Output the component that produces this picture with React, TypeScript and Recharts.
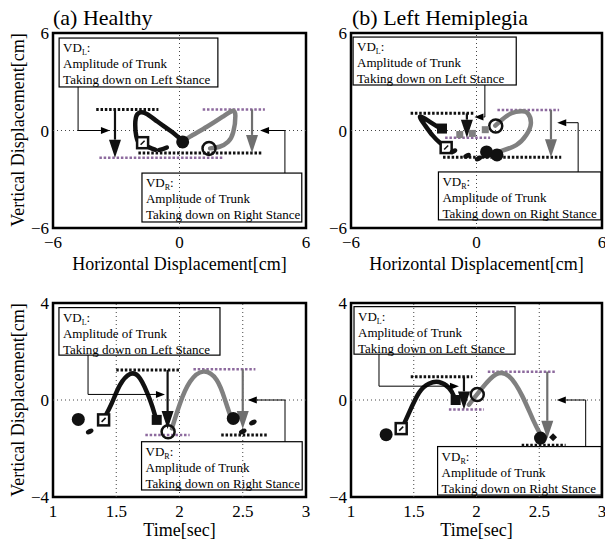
import React from "react";
import {
  ComposedChart,
  Line,
  Scatter,
  XAxis,
  YAxis,
  ReferenceLine,
  ReferenceArea,
} from "recharts";

const SERIF = "'Liberation Serif', 'Times New Roman', serif";
const INK = "#111";
const GREY = "#808080";
const PURPLE = "#8d6a9e";

// ---------- (a) Healthy, trunk path [cm]
const aBlackX = [0.15, -0.4, -1.05, -1.6, -2.0, -2.1, -2.05, -1.9, -1.75];
const aBlackY = [-0.65, -0.05, 0.55, 1.05, 1.0, 0.35, -0.35, -0.8, -0.75];
const aTailX = [-1.5, -1.0, -0.45];
const aTailY = [-1.0, -1.2, -0.95];
const aGrayX = [0.2, 0.5, 1.3, 2.05, 2.5, 2.65, 2.55, 2.3, 1.9, 1.45];
const aGrayY = [-0.65, -0.38, 0.23, 0.85, 1.2, 0.9, -0.1, -0.7, -1.0, -1.1];
const aMarkX = [0.15, 1.4, -1.75];
const aMarkY = [-0.7, -1.1, -0.75];
const aMarkKind = ["dot", "ring", "osq"];
const aLevelY = [1.3, 1.3, -1.38, -1.67];
const aLevelX1 = [-3.95, 1.1, -1.95, -3.8];
const aLevelX2 = [-1.0, 4.05, 3.95, 2.05];
const aLevelTone = ["k", "p", "k", "p"];
const aArrowX = [-3.06, 3.44];
const aArrowTop = [1.3, 1.3];
const aArrowEnd = [-1.67, -1.38];
const aArrowTone = ["k", "g"];

// ---------- (b) Left hemiplegia, trunk path [cm]
const bBlackX = [-1.75, -2.25, -2.7, -2.45, -2.1, -1.75, -1.5];
const bBlackY = [0.15, 0.55, 0.85, 0.3, -0.3, -0.75, -0.95];
const bGrayX = [1.1, 1.9, 2.38, 2.6, 2.45, 2.14, 1.67, 1.2, 0.9];
const bGrayY = [-1.3, -0.9, -0.28, 0.44, 1.06, 1.18, 1.06, 0.65, 0.3];
const bMarkX = [-1.65, -1.45, 0.92, 0.48, 0.98, -1.1, -0.45, 0.1, -0.8, -0.2, 0.42];
const bMarkY = [0.12, -1.05, 0.28, -1.32, -1.5, -1.28, -1.55, -1.72, -0.25, -0.18, 0.05];
const bMarkKind = ["sq", "osq", "ring", "dot", "dot", "bit", "bit", "bit", "gsq", "gsq", "gsq"];
const bLevelY = [1.06, 1.26, -0.44, -1.65];
const bLevelX1 = [-3.15, 1.0, -1.5, -1.6];
const bLevelX2 = [-0.15, 3.95, 0.65, 4.05];
const bLevelTone = ["k", "p", "p", "k"];
const bArrowX = [-0.46, 3.56];
const bArrowTop = [1.06, 1.26];
const bArrowEnd = [-0.44, -1.65];
const bArrowTone = ["k", "g"];

// ---------- (c) Healthy, vertical displacement over time
const cBlackX = [1.398, 1.464, 1.53, 1.609, 1.688, 1.767, 1.806];
const cBlackY = [-0.82, -0.14, 0.62, 1.07, 0.89, 0.0, -0.62];
const cGrayX = [1.94, 2.004, 2.083, 2.188, 2.294, 2.36, 2.4];
const cGrayY = [-1.17, -0.14, 0.75, 1.17, 0.82, 0.0, -0.62];
const cMarkX = [1.2, 1.4, 1.82, 1.91, 2.425, 1.29, 2.5, 2.58];
const cMarkY = [-0.8, -0.82, -0.82, -1.31, -0.76, -1.3, -1.3, -0.93];
const cMarkKind = ["dot", "osq", "sq", "ring", "dot", "bit", "bit", "bit"];
const cLevelY = [1.24, 1.27, -1.44, -1.44];
const cLevelX1 = [1.5, 2.11, 1.73, 2.33];
const cLevelX2 = [2.0, 2.6, 2.08, 2.7];
const cLevelTone = ["k", "p", "p", "k"];
const cArrowX = [1.906, 2.5];
const cArrowTop = [1.24, 1.27];
const cArrowEnd = [-1.2, -1.2];
const cArrowTone = ["k", "g"];

// ---------- (d) Left hemiplegia, vertical displacement over time
const dBlackX = [1.404, 1.462, 1.542, 1.62, 1.7, 1.78, 1.82];
const dBlackY = [-1.2, -0.53, 0.3, 0.67, 0.74, 0.5, 0.16];
const dGrayX = [1.94, 2.046, 2.153, 2.259, 2.365, 2.45, 2.51];
const dGrayY = [-0.19, 0.5, 1.05, 0.98, 0.16, -0.81, -1.43];
const dMarkX = [1.28, 1.4, 1.834, 2.006, 2.51, 2.61];
const dMarkY = [-1.43, -1.18, 0.0, 0.23, -1.57, -1.54];
const dMarkKind = ["dot", "osq", "sq", "ring", "dot", "dia"];
const dLevelY = [0.96, 1.17, -0.39, -1.87];
const dLevelX1 = [1.476, 2.09, 1.78, 2.36];
const dLevelX2 = [1.967, 2.63, 2.06, 2.71];
const dLevelTone = ["k", "p", "p", "k"];
const dArrowX = [1.9, 2.564];
const dArrowTop = [0.96, 1.17];
const dArrowEnd = [-0.39, -1.6];
const dArrowTone = ["k", "g"];

type Curve = { xs: number[]; ys: number[]; color: string; dash?: string };
type Note = {
  side: "L" | "R";
  x1: number;
  x2: number;
  y1: number;
  y2: number;
  stemX: number;
  stemFrom: number;
  stemTo: number;
  tipX: number;
};
type PanelProps = {
  frame: [number, number, number, number];
  xDomain: [number, number];
  yDomain: [number, number];
  xTicks: number[];
  yTicks: number[];
  gridX: number[];
  gridY: number[];
  curves: Curve[];
  markX: number[];
  markY: number[];
  markKind: string[];
  levelY: number[];
  levelX1: number[];
  levelX2: number[];
  levelTone: string[];
  arrowX: number[];
  arrowTop: number[];
  arrowEnd: number[];
  arrowTone: string[];
  notes: Note[];
};

const fmt = (v: number) => (v < 0 ? "\u2212" + Math.abs(v) : String(v));

const arrowShape =
  (color: string, width: number, len: number, half: number) => (p: any) => {
    const { x1, y1, x2, y2 } = p;
    const d = Math.hypot(x2 - x1, y2 - y1) || 1;
    const ux = (x2 - x1) / d;
    const uy = (y2 - y1) / d;
    const bx = x2 - ux * len;
    const by = y2 - uy * len;
    return (
      <g>
        <line x1={x1} y1={y1} x2={bx} y2={by} stroke={color} strokeWidth={width} />
        <polygon
          points={`${x2},${y2} ${bx - uy * half},${by + ux * half} ${bx + uy * half},${by - ux * half}`}
          fill={color}
        />
      </g>
    );
  };

const noteShape = (side: "L" | "R") => (p: any) => {
  const { x, y, width, height } = p;
  return (
    <g fontFamily={SERIF} fontSize={13} fill="#000">
      <rect x={x} y={y} width={width} height={height} fill="none" stroke="#000" strokeWidth={1.2} />
      <text x={x + 4} y={y + 14}>
        VD
        <tspan fontSize={8} dy={3}>
          {side}
        </tspan>
        <tspan dy={-3}>:</tspan>
      </text>
      <text x={x + 4} y={y + 30}>Amplitude of Trunk</text>
      <text x={x + 4} y={y + 46}>
        {side === "L" ? "Taking down on Left Stance" : "Taking down on Right Stance"}
      </text>
    </g>
  );
};

const markShape = (p: any) => {
  const { cx, cy, payload } = p;
  switch (payload.kind) {
    case "dot":
      return <circle cx={cx} cy={cy} r={6.5} fill={INK} />;
    case "ring":
      return <circle cx={cx} cy={cy} r={6.5} fill="none" stroke={INK} strokeWidth={2.5} />;
    case "sq":
      return <rect x={cx - 5} y={cy - 5} width={10} height={10} fill={INK} />;
    case "osq":
      return (
        <g>
          <rect x={cx - 5.5} y={cy - 5.5} width={11} height={11} fill="#fff" stroke={INK} strokeWidth={2.5} />
          <line x1={cx - 2} y1={cy + 2} x2={cx + 2} y2={cy - 2} stroke={INK} strokeWidth={1.5} />
        </g>
      );
    case "dia":
      return <polygon points={`${cx},${cy - 4} ${cx + 4},${cy} ${cx},${cy + 4} ${cx - 4},${cy}`} fill={INK} />;
    case "gsq":
      return <rect x={cx - 3.5} y={cy - 3.5} width={7} height={7} fill={GREY} />;
    default:
      return <ellipse cx={cx} cy={cy} rx={4} ry={2.5} fill={INK} transform={`rotate(-25 ${cx} ${cy})`} />;
  }
};

function Panel(p: PanelProps) {
  const [x0, y0, x1, y1] = p.frame;
  const width = x1 - x0 + 43;
  const height = y1 - y0 + 45;
  const tick = { fill: "#000", fontSize: 17, fontFamily: SERIF };
  const marks = p.markX.map((x, i) => ({ x, y: p.markY[i], kind: p.markKind[i] }));
  return (
    <div style={{ position: "absolute", left: x0 - 33, top: y0 - 8 }}>
      <ComposedChart width={width} height={height} margin={{ top: 8, right: 10, bottom: 7, left: 3 }}>
        <XAxis
          type="number"
          dataKey="x"
          domain={p.xDomain}
          ticks={p.xTicks}
          interval={0}
          allowDataOverflow
          axisLine={false}
          tickLine={false}
          tickSize={0}
          tickMargin={8}
          height={30}
          tick={tick}
          tickFormatter={fmt}
        />
        <YAxis
          type="number"
          dataKey="y"
          domain={p.yDomain}
          ticks={p.yTicks}
          interval={0}
          allowDataOverflow
          axisLine={false}
          tickLine={false}
          tickSize={0}
          tickMargin={4}
          width={30}
          tick={tick}
          tickFormatter={fmt}
        />
        {p.gridX.map((v) => (
          <ReferenceLine key={"gx" + v} x={v} stroke="#444" strokeDasharray="1 3" />
        ))}
        {p.gridY.map((v) => (
          <ReferenceLine key={"gy" + v} y={v} stroke="#444" strokeDasharray="1 3" />
        ))}
        {p.levelY.map((v, i) => (
          <ReferenceLine
            key={"lv" + i}
            segment={[
              { x: p.levelX1[i], y: v },
              { x: p.levelX2[i], y: v },
            ]}
            stroke={p.levelTone[i] === "k" ? INK : PURPLE}
            strokeWidth={p.levelTone[i] === "k" ? 3 : 2.5}
            strokeDasharray="2.5 1.8"
            ifOverflow="visible"
          />
        ))}
        {p.curves.map((c, i) => (
          <Line
            key={"cv" + i}
            data={c.xs.map((x, j) => ({ x, y: c.ys[j] }))}
            dataKey="y"
            type="natural"
            stroke={c.color}
            strokeWidth={4.5}
            strokeDasharray={c.dash}
            strokeLinecap="round"
            dot={false}
            activeDot={false}
            isAnimationActive={false}
          />
        ))}
        <Scatter data={marks} dataKey="y" shape={markShape} isAnimationActive={false} />
        {p.arrowX.map((v, i) => (
          <ReferenceLine
            key={"ar" + i}
            segment={[
              { x: v, y: p.arrowTop[i] },
              { x: v, y: p.arrowEnd[i] },
            ]}
            ifOverflow="visible"
            shape={arrowShape(p.arrowTone[i] === "k" ? INK : "#6f6f6f", 2.2, 18, 6)}
          />
        ))}
        {p.notes.map((n, i) => (
          <ReferenceArea
            key={"nb" + i}
            x1={n.x1}
            x2={n.x2}
            y1={n.y1}
            y2={n.y2}
            ifOverflow="visible"
            shape={noteShape(n.side)}
          />
        ))}
        {p.notes.map((n, i) => (
          <ReferenceLine
            key={"ns" + i}
            segment={[
              { x: n.stemX, y: n.stemFrom },
              { x: n.stemX, y: n.stemTo },
            ]}
            stroke="#000"
            strokeWidth={1}
            ifOverflow="visible"
          />
        ))}
        {p.notes.map((n, i) => (
          <ReferenceLine
            key={"nt" + i}
            segment={[
              { x: n.stemX, y: n.stemTo },
              { x: n.tipX, y: n.stemTo },
            ]}
            ifOverflow="visible"
            shape={arrowShape("#000", 1, 9, 3.5)}
          />
        ))}
        <ReferenceArea
          x1={p.xDomain[0]}
          x2={p.xDomain[1]}
          y1={p.yDomain[0]}
          y2={p.yDomain[1]}
          fill="none"
          stroke="#000"
          strokeWidth={2.5}
          ifOverflow="visible"
        />
      </ComposedChart>
    </div>
  );
}

const label = (text: string, cx: number, cy: number, rotate = false): React.ReactNode => (
  <div
    style={{
      position: "absolute",
      left: cx,
      top: cy,
      transform: `translate(-50%, -50%)${rotate ? " rotate(-90deg)" : ""}`,
      whiteSpace: "nowrap",
      fontFamily: SERIF,
      fontSize: 18,
      lineHeight: 1,
      color: "#000",
    }}
  >
    {text}
  </div>
);

export default function App() {
  const topCommon = {
    xDomain: [-6, 6] as [number, number],
    yDomain: [-6, 6] as [number, number],
    xTicks: [-6, 0, 6],
    yTicks: [-6, 0, 6],
    gridX: [0],
    gridY: [0],
  };
  const lowCommon = {
    xDomain: [1, 3] as [number, number],
    yDomain: [-4, 4] as [number, number],
    xTicks: [1, 1.5, 2, 2.5, 3],
    yTicks: [-4, 0, 4],
    gridX: [1.5, 2, 2.5],
    gridY: [0],
  };
  return (
    <div
      style={{
        position: "absolute",
        left: 0,
        top: 0,
        width: 605,
        height: 543,
        overflow: "hidden",
        background: "#fff",
      }}
    >
      <div style={{ position: "absolute", left: 53, top: 7, fontFamily: SERIF, fontSize: 22, lineHeight: 1 }}>
        (a) Healthy
      </div>
      <div style={{ position: "absolute", left: 352, top: 7, fontFamily: SERIF, fontSize: 22, lineHeight: 1 }}>
        (b) Left Hemiplegia
      </div>

      <Panel
        frame={[53, 33, 306, 228]}
        {...topCommon}
        curves={[
          { xs: aBlackX, ys: aBlackY, color: INK },
          { xs: aTailX, ys: aTailY, color: INK, dash: "8 4" },
          { xs: aGrayX, ys: aGrayY, color: GREY },
        ]}
        markX={aMarkX}
        markY={aMarkY}
        markKind={aMarkKind}
        levelY={aLevelY}
        levelX1={aLevelX1}
        levelX2={aLevelX2}
        levelTone={aLevelTone}
        arrowX={aArrowX}
        arrowTop={aArrowTop}
        arrowEnd={aArrowEnd}
        arrowTone={aArrowTone}
        notes={[
          { side: "L", x1: -5.71, x2: 1.82, y1: 5.69, y2: 2.68, stemX: -4.81, stemFrom: 2.68, stemTo: 0, tipX: -3.3 },
          { side: "R", x1: -1.78, x2: 5.8, y1: -2.62, y2: -5.63, stemX: 5.0, stemFrom: -2.62, stemTo: 0, tipX: 3.82 },
        ]}
      />
      <Panel
        frame={[351, 33, 602, 228]}
        {...topCommon}
        curves={[
          { xs: bBlackX, ys: bBlackY, color: INK },
          { xs: bGrayX, ys: bGrayY, color: GREY },
        ]}
        markX={bMarkX}
        markY={bMarkY}
        markKind={bMarkKind}
        levelY={bLevelY}
        levelX1={bLevelX1}
        levelX2={bLevelX2}
        levelTone={bLevelTone}
        arrowX={bArrowX}
        arrowTop={bArrowTop}
        arrowEnd={bArrowEnd}
        arrowTone={bArrowTone}
        notes={[
          { side: "L", x1: -5.9, x2: 1.9, y1: 5.75, y2: 2.8, stemX: 0.4, stemFrom: 2.8, stemTo: 0.83, tipX: -0.1 },
          { side: "R", x1: -1.82, x2: 5.95, y1: -2.55, y2: -5.5, stemX: 4.86, stemFrom: -2.55, stemTo: 0.48, tipX: 3.86 },
        ]}
      />
      <Panel
        frame={[53, 303, 306, 497]}
        {...lowCommon}
        curves={[
          { xs: cBlackX, ys: cBlackY, color: INK },
          { xs: cGrayX, ys: cGrayY, color: GREY },
        ]}
        markX={cMarkX}
        markY={cMarkY}
        markKind={cMarkKind}
        levelY={cLevelY}
        levelX1={cLevelX1}
        levelX2={cLevelX2}
        levelTone={cLevelTone}
        arrowX={cArrowX}
        arrowTop={cArrowTop}
        arrowEnd={cArrowEnd}
        arrowTone={cArrowTone}
        notes={[
          { side: "L", x1: 1.047, x2: 2.32, y1: 3.81, y2: 1.85, stemX: 1.277, stemFrom: 1.85, stemTo: 0.23, tipX: 1.885 },
          { side: "R", x1: 1.7, x2: 2.97, y1: -1.72, y2: -3.71, stemX: 2.834, stemFrom: -1.72, stemTo: 0, tipX: 2.54 },
        ]}
      />
      <Panel
        frame={[351, 303, 602, 497]}
        {...lowCommon}
        curves={[
          { xs: dBlackX, ys: dBlackY, color: INK },
          { xs: dGrayX, ys: dGrayY, color: GREY },
        ]}
        markX={dMarkX}
        markY={dMarkY}
        markKind={dMarkKind}
        levelY={dLevelY}
        levelX1={dLevelX1}
        levelX2={dLevelX2}
        levelTone={dLevelTone}
        arrowX={dArrowX}
        arrowTop={dArrowTop}
        arrowEnd={dArrowEnd}
        arrowTone={dArrowTone}
        notes={[
          { side: "L", x1: 1.024, x2: 2.307, y1: 3.85, y2: 1.89, stemX: 1.223, stemFrom: 1.89, stemTo: 0.57, tipX: 1.86 },
          { side: "R", x1: 1.69, x2: 2.995, y1: -1.92, y2: -3.92, stemX: 2.87, stemFrom: -1.92, stemTo: 0, tipX: 2.64 },
        ]}
      />

      {label("Vertical Displacement[cm]", 18, 130, true)}
      {label("Vertical Displacement[cm]", 18, 400, true)}
      {label("Horizontal Displacement[cm]", 179.5, 264)}
      {label("Horizontal Displacement[cm]", 476.5, 264)}
      {label("Time[sec]", 179.5, 530)}
      {label("Time[sec]", 476.5, 530)}
    </div>
  );
}
